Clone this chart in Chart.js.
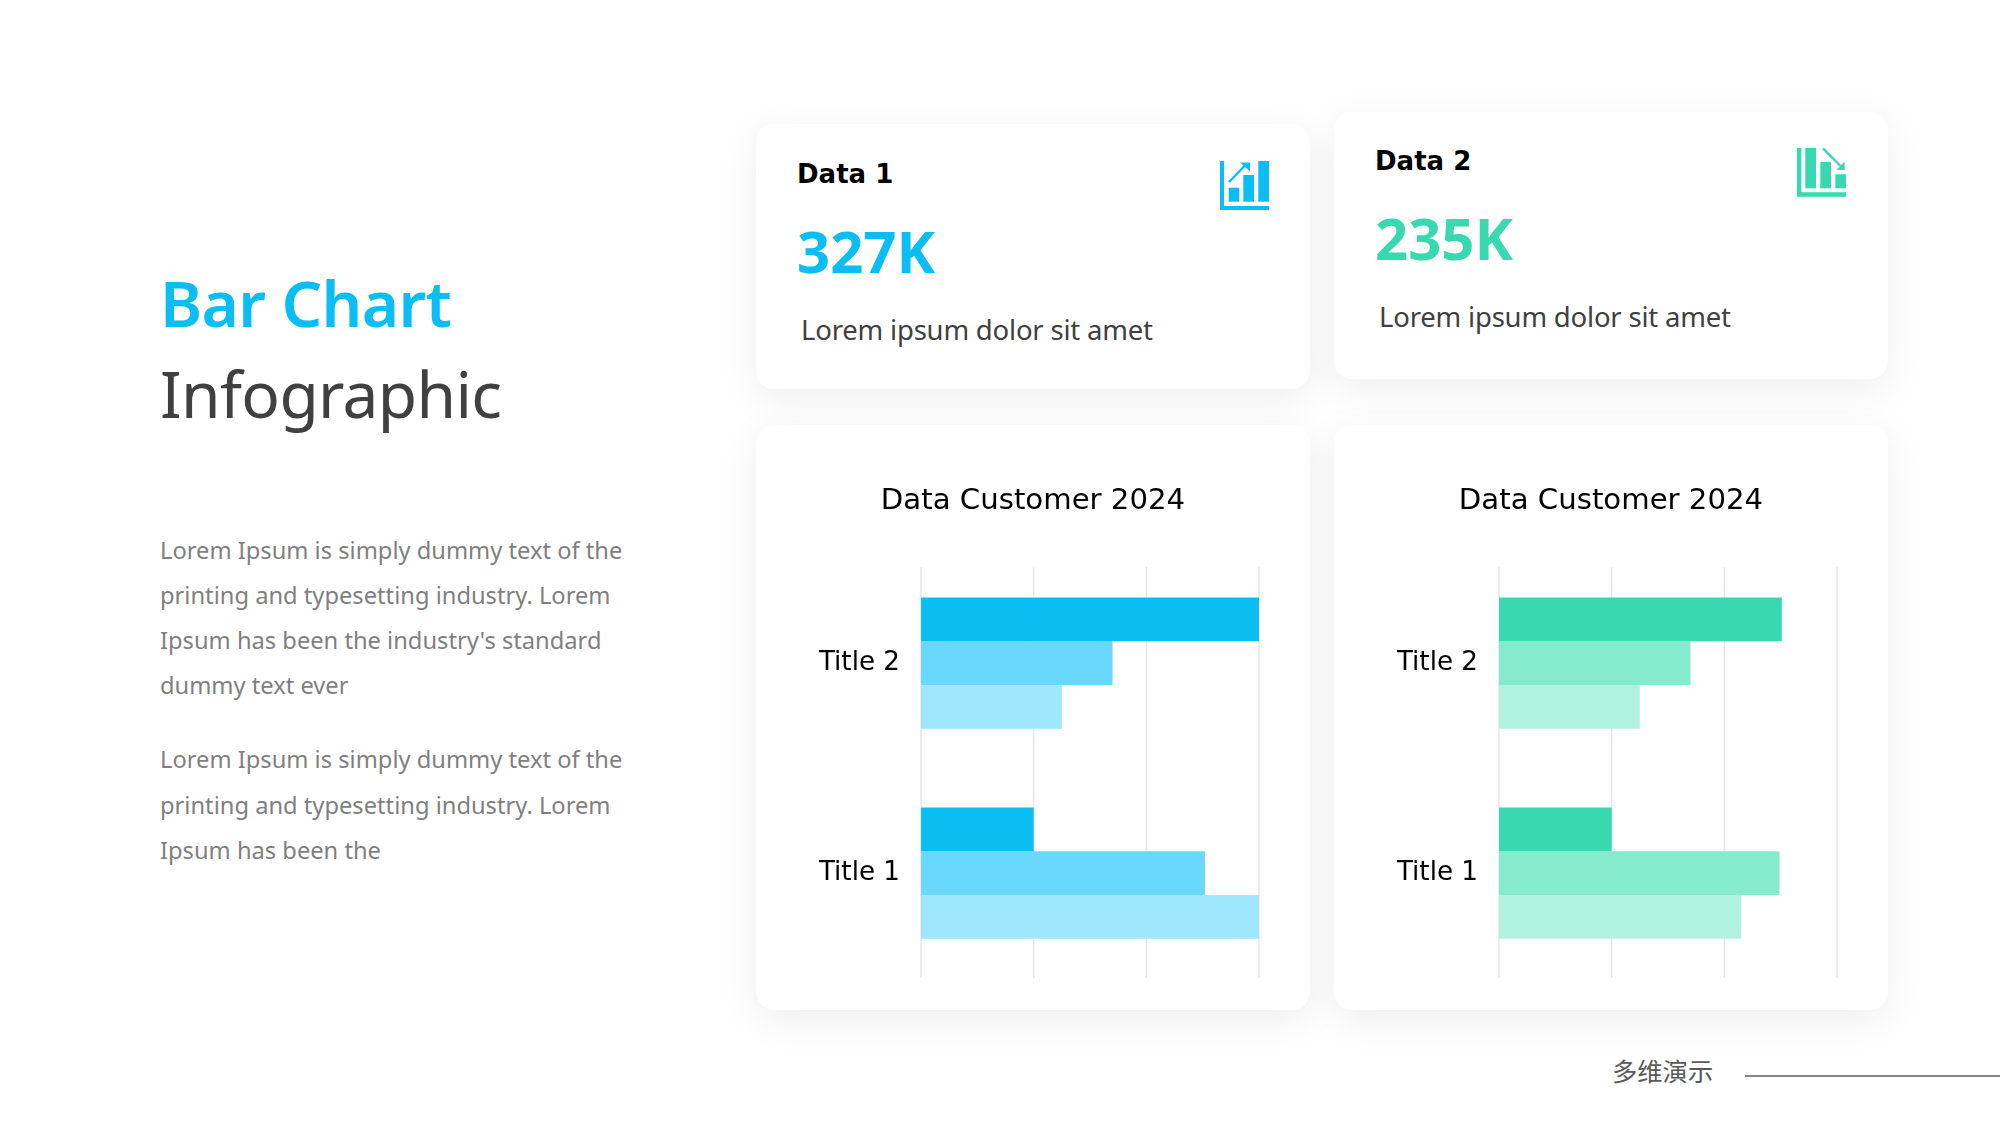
<!DOCTYPE html>
<html>
<head>
<meta charset="utf-8">
<title>Bar Chart Infographic</title>
<script src="https://cdn.jsdelivr.net/npm/chart.js@4"></script>
<style>
  html, body { margin: 0; padding: 0; background: #fff; }
  body { width: 2000px; height: 1125px; position: relative; overflow: hidden; font-family: "Noto Sans", sans-serif; }
  .card { position: absolute; background: #fff; border-radius: 18px; box-shadow: 0 10px 40px rgba(0, 0, 0, 0.07); }
  .t { position: absolute; white-space: nowrap; line-height: 1; transform: translateY(-50%); }
  .head { left: 160px; font-size: 64px; letter-spacing: -0.65px; }
  .body-line { left: 160px; font-size: 23.7px; color: #7f7f7f; }
  .label { font-family: "DejaVu Sans", sans-serif; font-weight: bold; font-size: 26px; color: #000; }
  .big { font-weight: bold; font-size: 58px; }
  .sub { font-size: 27.5px; letter-spacing: -0.2px; color: #404040; }
  canvas { position: absolute; display: block; }
  svg { position: absolute; }
</style>
</head>
<body>
  <div class="t head" style="top:303px;font-weight:600;color:#0abdf3">Bar Chart</div>
  <div class="t head" style="top:394px;color:#404040">Infographic</div>

  <div class="t body-line" style="top:551px">Lorem Ipsum is simply dummy text of the</div>
  <div class="t body-line" style="top:596px">printing and typesetting industry. Lorem</div>
  <div class="t body-line" style="top:641px">Ipsum has been the industry's standard</div>
  <div class="t body-line" style="top:686px">dummy text ever</div>
  <div class="t body-line" style="top:760px">Lorem Ipsum is simply dummy text of the</div>
  <div class="t body-line" style="top:806px">printing and typesetting industry. Lorem</div>
  <div class="t body-line" style="top:851px">Ipsum has been the</div>

  <div class="card" style="left:756px;top:124px;width:554px;height:265px"></div>
  <div class="card" style="left:1334px;top:112px;width:554px;height:267px"></div>
  <div class="card" style="left:756px;top:425px;width:554px;height:585px"></div>
  <div class="card" style="left:1334px;top:425px;width:554px;height:585px"></div>

  <div class="t label" style="left:797px;top:174px">Data 1</div>
  <div class="t big" style="left:797px;top:251px;color:#0abdf3">327K</div>
  <div class="t sub" style="left:801px;top:330px">Lorem ipsum dolor sit amet</div>

  <div class="t label" style="left:1375px;top:161px">Data 2</div>
  <div class="t big" style="left:1375px;top:238px;color:#38d9ae">235K</div>
  <div class="t sub" style="left:1379px;top:317px">Lorem ipsum dolor sit amet</div>

  <svg style="left:1220px;top:161px" width="49" height="49" viewBox="0 0 49 49" fill="#0abdf3">
    <path d="M0 0h4v45h45v4H0z"/>
    <rect x="8.7" y="26.7" width="10.6" height="14"/>
    <rect x="23.3" y="14" width="10.7" height="26.7"/>
    <rect x="38.3" y="0" width="10.7" height="40.7"/>
    <path d="M9 21L26 3.5" stroke="#0abdf3" stroke-width="2.4" fill="none"/>
    <path d="M20 1.5h10v9z"/>
  </svg>
  <svg style="left:1797px;top:148px" width="49" height="49" viewBox="0 0 49 49" fill="#38d9ae">
    <path d="M0 0h4.4v44.3H49v4.4H0z"/>
    <rect x="8.3" y="0" width="10.7" height="40.3"/>
    <rect x="23.3" y="14" width="10.7" height="26.3"/>
    <rect x="38.3" y="26.3" width="10.7" height="14"/>
    <path d="M26 0.3L45 19.5" stroke="#38d9ae" stroke-width="2.4" fill="none"/>
    <path d="M47.7 13.7V22H39.3z"/>
  </svg>

  <canvas id="chartBlue" width="554" height="585" style="left:756px;top:425px"></canvas>
  <canvas id="chartGreen" width="554" height="585" style="left:1334px;top:425px"></canvas>

  <div class="t" style="left:1612px;top:1071px;font-family:'Noto Sans CJK SC';font-size:25.3px;color:#595959">多维演示</div>
  <div style="position:absolute;left:1745px;top:1075px;width:255px;height:2px;background:#888"></div>

<script>
// Values
const categories = ['Title 2', 'Title 1'];
const chartTitle = 'Data Customer 2024';

const blueFirst = [3, 1];
const blueSecond = [1.7, 2.52];
const blueThird = [1.25, 3];
const blueColors = ['#0abdf3', '#69d8fd', '#9ee7fe'];

const greenFirst = [2.51, 1];
const greenSecond = [1.7, 2.49];
const greenThird = [1.25, 2.15];
const greenColors = ['#38d9ae', '#86ebcc', '#b0f2de'];

const axisMin = 0;
const axisMax = 3;
const axisStep = 1;

// The grid starts a little below the top of the plot, so it is drawn here
const gridLines = {
    id: 'gridLines',
    beforeDatasetsDraw(chart) {
        const { ctx, chartArea, scales } = chart;
        ctx.save();
        ctx.strokeStyle = '#e6e6e6';
        ctx.lineWidth = 1.5;
        scales.x.ticks.forEach(tick => {
            const x = scales.x.getPixelForValue(tick.value);
            ctx.beginPath();
            ctx.moveTo(x, 142);
            ctx.lineTo(x, chartArea.bottom);
            ctx.stroke();
        });
        ctx.restore();
    }
};

function initChart(id, series, colors) {
    new Chart(document.getElementById(id), {
        type: 'bar',
        data: {
            labels: categories,
            datasets: series.map((values, i) => ({
                data: values,
                backgroundColor: colors[i],
                borderWidth: 0,
                barPercentage: 1,
                categoryPercentage: 0.625
            }))
        },
        options: {
            indexAxis: 'y',
            responsive: false,
            animation: false,
            // equal side padding keeps the title centred on the card
            layout: { padding: { left: 51, right: 51, bottom: 32 } },
            plugins: {
                legend: { display: false },
                tooltip: { enabled: false },
                title: {
                    display: true,
                    text: chartTitle,
                    color: '#000',
                    font: { family: '"DejaVu Sans"', size: 29.2, weight: 'normal' },
                    padding: { top: 59, bottom: 39 }
                }
            },
            scales: {
                x: {
                    min: axisMin,
                    max: axisMax,
                    ticks: { stepSize: axisStep, display: false },
                    grid: { display: false, drawTicks: false },
                    border: { display: false }
                },
                y: {
                    grid: { display: false, drawTicks: false },
                    border: { display: false },
                    ticks: { color: '#000', padding: 21, font: { family: '"DejaVu Sans"', size: 26.2 } },
                    afterFit(scale) {
                        scale.width = 114;
                        scale.paddingTop = 0;
                        scale.paddingBottom = 0;
                    }
                }
            }
        },
        plugins: [gridLines]
    });
}

initChart('chartBlue', [blueFirst, blueSecond, blueThird], blueColors);
initChart('chartGreen', [greenFirst, greenSecond, greenThird], greenColors);
</script>
</body>
</html>
